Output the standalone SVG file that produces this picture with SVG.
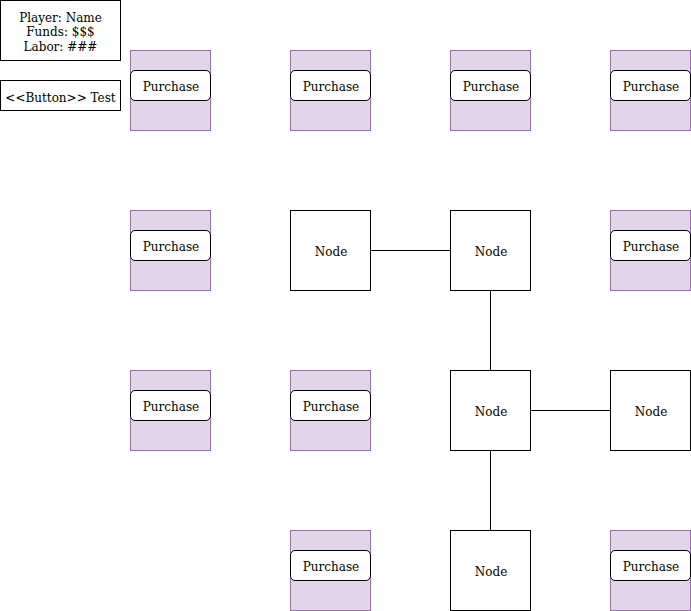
<svg xmlns="http://www.w3.org/2000/svg" width="691" height="611" viewBox="0 0 691 611">
<style>
text{font-family:"DejaVu Serif",serif;font-size:12px;fill:#000;text-anchor:middle;dominant-baseline:central}
.tile{fill:#e1d5e7;stroke:#9673a6;stroke-width:1}
.btn{fill:#fff;stroke:#000;stroke-width:1}
.box{fill:#fff;stroke:#000;stroke-width:1}
.edge{stroke:#000;stroke-width:1;fill:none}
</style>
<rect width="691" height="611" fill="#fff"/>
<g id="info">
<rect class="box" x="0.5" y="0.5" width="120" height="60"/>
<text x="60.5" y="17.5">Player: Name</text>
<text x="60.5" y="32">Funds: $$$</text>
<text x="60.5" y="46.5">Labor: ###</text>
</g>
<g id="button-test">
<rect class="box" x="0.5" y="80.5" width="120" height="30"/>
<text x="60.5" y="97.5">&lt;&lt;Button&gt;&gt; Test</text>
</g>
<g id="connectors">
<line class="edge" x1="370.5" y1="250.5" x2="450.5" y2="250.5"/>
<line class="edge" x1="490.5" y1="290.5" x2="490.5" y2="370.5"/>
<line class="edge" x1="530.5" y1="410.5" x2="610.5" y2="410.5"/>
<line class="edge" x1="490.5" y1="450.5" x2="490.5" y2="530.5"/>
</g>
<g id="p-r0c0"><rect class="tile" x="130.5" y="50.5" width="80" height="80"/><rect class="btn" x="130.5" y="70.5" width="80" height="30" rx="4.5"/><text x="171" y="87">Purchase</text></g>
<g id="p-r0c1"><rect class="tile" x="290.5" y="50.5" width="80" height="80"/><rect class="btn" x="290.5" y="70.5" width="80" height="30" rx="4.5"/><text x="331" y="87">Purchase</text></g>
<g id="p-r0c2"><rect class="tile" x="450.5" y="50.5" width="80" height="80"/><rect class="btn" x="450.5" y="70.5" width="80" height="30" rx="4.5"/><text x="491" y="87">Purchase</text></g>
<g id="p-r0c3"><rect class="tile" x="610.5" y="50.5" width="80" height="80"/><rect class="btn" x="610.5" y="70.5" width="80" height="30" rx="4.5"/><text x="651" y="87">Purchase</text></g>
<g id="p-r1c0"><rect class="tile" x="130.5" y="210.5" width="80" height="80"/><rect class="btn" x="130.5" y="230.5" width="80" height="30" rx="4.5"/><text x="171" y="247">Purchase</text></g>
<g id="n-r1c1"><rect class="box" x="290.5" y="210.5" width="80" height="80"/><text x="331" y="252">Node</text></g>
<g id="n-r1c2"><rect class="box" x="450.5" y="210.5" width="80" height="80"/><text x="491" y="252">Node</text></g>
<g id="p-r1c3"><rect class="tile" x="610.5" y="210.5" width="80" height="80"/><rect class="btn" x="610.5" y="230.5" width="80" height="30" rx="4.5"/><text x="651" y="247">Purchase</text></g>
<g id="p-r2c0"><rect class="tile" x="130.5" y="370.5" width="80" height="80"/><rect class="btn" x="130.5" y="390.5" width="80" height="30" rx="4.5"/><text x="171" y="407">Purchase</text></g>
<g id="p-r2c1"><rect class="tile" x="290.5" y="370.5" width="80" height="80"/><rect class="btn" x="290.5" y="390.5" width="80" height="30" rx="4.5"/><text x="331" y="407">Purchase</text></g>
<g id="n-r2c2"><rect class="box" x="450.5" y="370.5" width="80" height="80"/><text x="491" y="412">Node</text></g>
<g id="n-r2c3"><rect class="box" x="610.5" y="370.5" width="80" height="80"/><text x="651" y="412">Node</text></g>
<g id="p-r3c1"><rect class="tile" x="290.5" y="530.5" width="80" height="80"/><rect class="btn" x="290.5" y="550.5" width="80" height="30" rx="4.5"/><text x="331" y="567">Purchase</text></g>
<g id="n-r3c2"><rect class="box" x="450.5" y="530.5" width="80" height="80"/><text x="491" y="572">Node</text></g>
<g id="p-r3c3"><rect class="tile" x="610.5" y="530.5" width="80" height="80"/><rect class="btn" x="610.5" y="550.5" width="80" height="30" rx="4.5"/><text x="651" y="567">Purchase</text></g>
</svg>
